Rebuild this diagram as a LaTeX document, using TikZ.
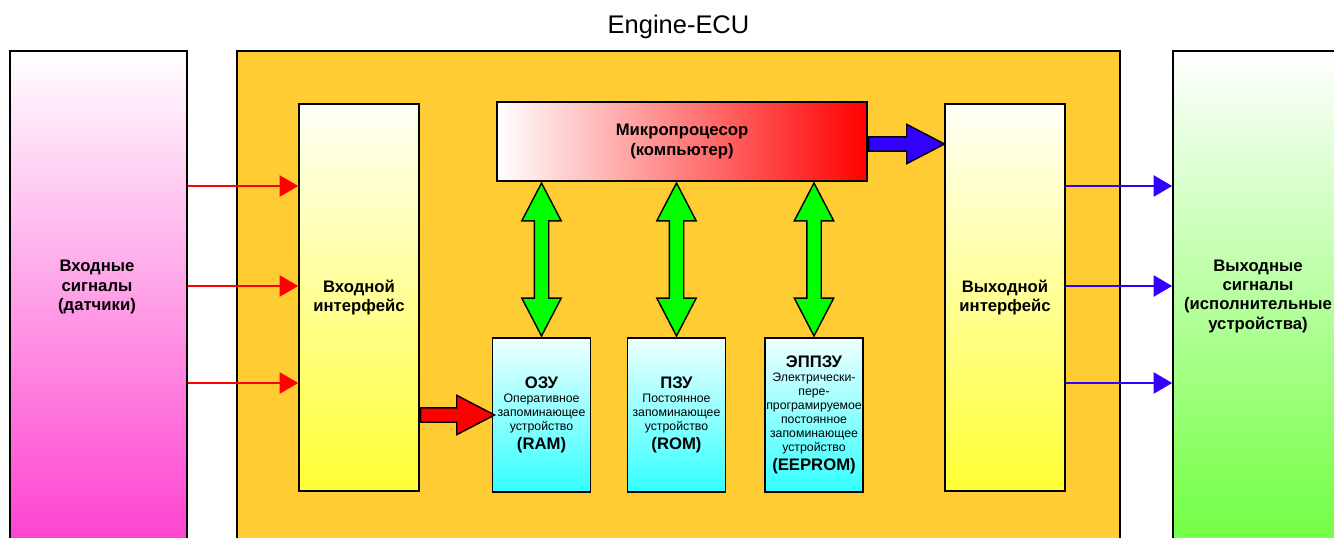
\documentclass[tikz,border=0pt]{standalone}
\usepackage{fontspec}
\setmainfont{Liberation Sans}
\usetikzlibrary{arrows.meta,shapes.arrows,calc}

\definecolor{ecuorange}{RGB}{255,204,51}
\definecolor{sensmagenta}{RGB}{255,51,204}
\definecolor{actgreen}{RGB}{102,255,51}
\definecolor{ifyellow}{RGB}{255,255,51}
\definecolor{memcyan}{RGB}{51,255,255}
\definecolor{busblue}{RGB}{51,0,255}
\definecolor{busgreen}{RGB}{0,255,0}

\newcommand{\memhead}[1]{{\bfseries\fontsize{9.5}{11}\selectfont #1}}

\tikzset{
  block/.style={draw=black, line width=1pt, rectangle, inner sep=0pt},
  bigtext/.style={align=center, font=\bfseries\fontsize{9.5}{11}\selectfont},
  sigbox/.style={block, minimum width=3.54cm, minimum height=10.58cm},
  ifbox/.style={block, bigtext, minimum width=2.4cm, minimum height=7.74cm,
    top color=ifyellow!4, bottom color=ifyellow},
  membox/.style={block, minimum width=1.96cm, minimum height=3.08cm,
    top color=memcyan!8, bottom color=memcyan, align=center,
    font=\fontsize{7}{7.9}\selectfont},
  insig/.style={draw=red, line width=1.1pt, -{Triangle[length=10.5pt, width=12pt]}},
  outsig/.style={draw=busblue, line width=1.1pt, -{Triangle[length=10.5pt, width=12pt]}},
  blockarrow/.style={single arrow, draw=black, line width=0.8pt, inner sep=0.13cm,
    single arrow head extend=0.25cm, single arrow tip angle=55, anchor=tail},
  busarrow/.style={double arrow, draw=black, line width=0.8pt, inner sep=0.13cm,
    fill=busgreen, minimum height=3.06cm,
    double arrow head extend=0.25cm, double arrow tip angle=55,
    shape border rotate=90}
}

\begin{document}
\begin{tikzpicture}[x=0.02cm, y=-0.02cm]
  \useasboundingbox (0,0) rectangle (1334,537);
  \clip (0,0) rectangle (1334,537);

  % outer blocks, cut by the lower edge
  \node[sigbox, top color=white, middle color=sensmagenta!55, bottom color=sensmagenta] (sens) at (98.5,315.5) {};
  \node[block, fill=ecuorange, minimum width=17.66cm, minimum height=10.58cm] (ecu) at (678.5,315.5) {};
  \node[sigbox, minimum width=4.54cm, top color=white, middle color=actgreen!50, bottom color=actgreen] (act) at (1286.5,315.5) {};
  \node (title) at (ecu.north |- 0,27) [font=\fontsize{14.5}{17}\selectfont] {Engine-ECU};

  \node[bigtext] (senstext) at (97,287) {Входные\\сигналы\\(датчики)};
  \node[bigtext] (acttext) at (1258,296) {Выходные\\сигналы\\(исполнительные\\устройства)};

  \node[ifbox] (inif) at (359,297.5) {Входной\\интерфейс};
  \node[ifbox] (outif) at (1005,297.5) {Выходной\\интерфейс};

  \node[block, bigtext, minimum width=7.4cm, minimum height=1.58cm,
    left color=white, right color=red] (cpu) at (682,141.5) {Микропроцесор\\(компьютер)};

  % memories
  \node[membox] (ram) at (541.5,415) {\memhead{ОЗУ}\\Оперативное\\запоминающее\\устройство\\[1.5pt]\memhead{(RAM)}};
  \node[membox] (rom) at (676.5,415) {\memhead{ПЗУ}\\Постоянное\\запоминающее\\устройство\\[1.5pt]\memhead{(ROM)}};
  \node[membox] (eeprom) at (814,415) {\memhead{ЭППЗУ}\\Электрически-\\пере-\\програмируемое\\постоянное\\запоминающее\\устройство\\[1.5pt]\memhead{(EEPROM)}};

  \foreach \y in {186,286,383} {
    \draw[insig] (sens.east |- 0,\y) -- (inif.west |- 0,\y);
    \draw[outsig] (outif.east |- 0,\y) -- (act.west |- 0,\y);
  }

  \node[blockarrow, fill=busblue, minimum height=1.52cm] (cpuout) at ([yshift=-0.05cm]cpu.east) {};
  \node[blockarrow, fill=red, minimum height=1.48cm] (inram) at (inif.east |- ram.west) {};
  \foreach \m in {ram,rom,eeprom}
    \node[busarrow] (bus-\m) at ($(cpu.south -| \m.north)!0.5!(\m.north)$) {};
\end{tikzpicture}
\end{document}
